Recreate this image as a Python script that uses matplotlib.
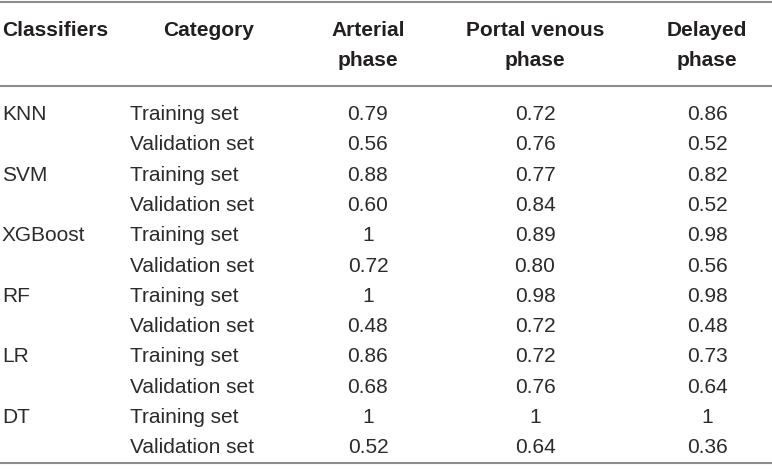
import matplotlib
matplotlib.use("Agg")
import matplotlib.pyplot as plt

plt.rcParams['font.family'] = ['Liberation Sans', 'DejaVu Sans']

headers = ["Classifiers", "Category", "Arterial\nphase", "Portal venous\nphase", "Delayed\nphase"]
classifiers = ["KNN", "SVM", "XGBoost", "RF", "LR", "DT"]
categories = ["Training set", "Validation set"]
arterial = ["0.79", "0.56", "0.88", "0.60", "1", "0.72", "1", "0.48", "0.86", "0.68", "1", "0.52"]
portal = ["0.72", "0.76", "0.77", "0.84", "0.89", "0.80", "0.98", "0.72", "0.72", "0.76", "1", "0.64"]
delayed = ["0.86", "0.52", "0.82", "0.52", "0.98", "0.56", "0.98", "0.48", "0.73", "0.64", "1", "0.36"]

W, H = 772, 471
fig = plt.figure(figsize=(W / 100, H / 100), dpi=100)
ax = fig.add_axes([0, 0, 1, 1])
ax.set_xlim(0, W)
ax.set_ylim(H, 0)
ax.axis("off")

txt = "#231f20"
body_c = "#2b2b2b"
line_c = "#8c8c8c"
fs = 15

# rules
for y in [1.5, 86, 463]:
    ax.plot([0, W], [y, y], color=line_c, lw=1.5, solid_capstyle="butt")

# header
hx = [2, 209, 368, 535, 707]
ax.text(hx[0], 31, headers[0], ha="left", va="center", fontsize=fs, fontweight="bold", color=txt)
ax.text(hx[1], 31, headers[1], ha="center", va="center", fontsize=fs, fontweight="bold", color=txt)
for x, h in zip(hx[2:], headers[2:]):
    top, bot = h.split("\n")
    ax.text(x, 31, top, ha="center", va="center", fontsize=fs, fontweight="bold", color=txt)
    ax.text(x, 60, bot, ha="center", va="center", fontsize=fs, fontweight="bold", color=txt)

# body
y0, dy = 114.5, 30.3
for i in range(12):
    y = y0 + i * dy
    if i % 2 == 0:
        ax.text(2, y, classifiers[i // 2], ha="left", va="center", fontsize=fs, color=body_c)
    ax.text(130, y, categories[i % 2], ha="left", va="center", fontsize=fs, color=body_c)
    ax.text(hx[2], y, arterial[i], ha="center", va="center", fontsize=fs, color=body_c)
    ax.text(hx[3], y, portal[i], ha="center", va="center", fontsize=fs, color=body_c)
    ax.text(hx[4], y, delayed[i], ha="center", va="center", fontsize=fs, color=body_c)

fig.savefig("out.png", dpi=100)
